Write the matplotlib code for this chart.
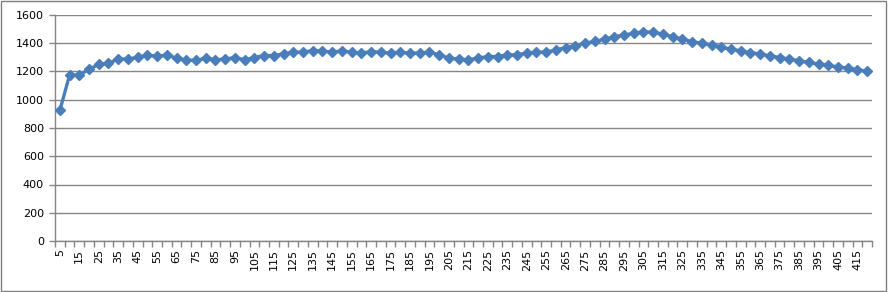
import numpy as np
import matplotlib.pyplot as plt
from matplotlib.patches import Rectangle

categories = list(range(5, 425, 5))
values = [925, 1175, 1175, 1215, 1250, 1258, 1288, 1288, 1300, 1316, 1308, 1316, 1295, 1280,
          1278, 1295, 1283, 1288, 1299, 1283, 1299, 1313, 1313, 1325, 1337, 1337, 1348, 1345,
          1337, 1346, 1337, 1330, 1341, 1337, 1330, 1337, 1330, 1330, 1337, 1318, 1295, 1288,
          1283, 1295, 1306, 1306, 1318, 1318, 1330, 1337, 1337, 1353, 1369, 1383, 1400, 1413,
          1428, 1446, 1458, 1470, 1481, 1477, 1465, 1446, 1430, 1411, 1400, 1388, 1372, 1358,
          1346, 1334, 1323, 1311, 1299, 1288, 1276, 1264, 1253, 1243, 1232, 1225, 1213, 1201]
yticks = list(range(0, 1601, 200))

fig = plt.figure(figsize=(8.88, 2.92), dpi=100)
ax = fig.add_axes([55 / 888, 51 / 292, 817 / 888, 226 / 292])

x = np.arange(len(categories))
ax.plot(x, values, color='#4A7EBB', lw=2.4, marker='D', markersize=5.5,
        markeredgecolor='#4A7EBB', markerfacecolor='#4A7EBB', zorder=3)

ax.set_xlim(-0.5, len(categories) - 0.5)
ax.set_ylim(0, 1600)
ax.set_yticks(yticks)
ax.yaxis.grid(True, color='#868686', lw=1)
ax.set_axisbelow(True)

# labels on every other category, tick marks on category boundaries
ax.set_xticks(x[::2])
ax.set_xticklabels([str(c) for c in categories[::2]], rotation=90, fontsize=8)
ax.set_xticks(np.arange(-0.5, len(categories)), minor=True)
ax.tick_params(axis='x', which='major', length=0, pad=6)
ax.tick_params(axis='x', which='minor', length=4, color='#868686', width=1)
ax.tick_params(axis='y', length=4, color='#868686', width=1, labelsize=8, pad=4)

for s in ['top', 'right']:
    ax.spines[s].set_visible(False)
for s in ['left', 'bottom']:
    ax.spines[s].set_color('#868686')
    ax.spines[s].set_linewidth(1)

fig.add_artist(Rectangle((0.001, 0.002), 0.997, 0.995, transform=fig.transFigure,
                         fill=False, edgecolor='#7f7f7f', lw=1))

fig.savefig('out.png', dpi=100)
